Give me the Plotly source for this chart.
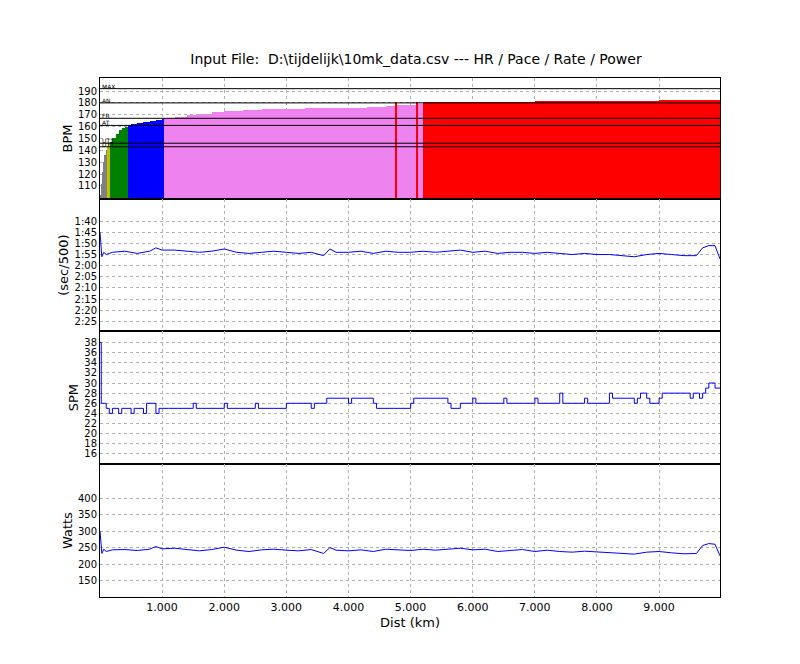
import plotly.graph_objects as go

# ---- data ----
hr_dist = [0.0, 0.02, 0.04, 0.06, 0.08, 0.10, 0.12, 0.14, 0.17, 0.20, 0.25, 0.30, 0.35, 0.40, 0.45, 0.50,
           0.60, 0.70, 0.80, 0.90, 1.00, 1.03, 1.2, 1.4, 1.6, 1.8, 2.0, 2.3, 2.6, 3.0, 3.3, 3.6, 4.0,
           4.3, 4.6, 4.75, 4.78, 5.08, 5.12, 5.20, 5.5, 6.0, 6.5, 7.0, 7.5, 8.0, 8.5, 9.0, 9.5, 9.98]
hr_vals = [102, 112, 122, 130, 136, 140, 143.5, 145, 147, 150, 154, 157, 159, 160, 161.5, 162,
           163, 164, 165, 165.5, 166, 167.5, 168.5, 170, 171, 172, 173, 174, 174.5, 175, 175.5, 175.5, 176,
           176.5, 177, 180.5, 178, 180.5, 179, 180.5, 180.5, 181, 181, 181.5, 181.5, 182, 182, 182.5, 182.5, 183]

zone_names = ["MAX", "AN", "FR", "AT", "UT1", "UT2"]
zone_vals = [192, 180, 167, 161, 146, 143]

pace_dist = [0, 0.03, 0.06, 0.1, 0.2, 0.4, 0.6, 0.8, 0.9, 1.0, 1.2, 1.4, 1.6, 1.8, 2.0, 2.2, 2.4, 2.6, 2.8,
             3.0, 3.2, 3.4, 3.6, 3.7, 3.8, 4.0, 4.2, 4.4, 4.6, 4.8, 5.0, 5.2, 5.4, 5.6, 5.8, 6.0, 6.2, 6.4,
             6.6, 6.8, 7.0, 7.2, 7.4, 7.6, 7.8, 8.0, 8.2, 8.4, 8.6, 8.8, 9.0, 9.2, 9.4, 9.6, 9.7, 9.8, 9.9, 9.98]
pace_sec = [105, 116, 114, 115, 114, 113.5, 114.5, 113.5, 112, 113, 113, 113.5, 114, 113.5, 112.5, 114, 114.5,
            114, 113.5, 114, 114.5, 114, 115.5, 112.5, 114, 114, 113.5, 114.5, 113.5, 114, 114, 113.5, 114,
            113.5, 113, 114, 113.5, 114.5, 114, 114, 114.5, 114, 114.5, 115, 114.5, 115, 115, 115.5, 116,
            115, 114.5, 115, 115.5, 115.5, 112, 111, 111, 117]
pace_ticks = [100, 105, 110, 115, 120, 125, 130, 135, 140, 145]
pace_labels = ["1:40", "1:45", "1:50", "1:55", "2:00", "2:05", "2:10", "2:15", "2:20", "2:25"]

spm_dist = [0, 0.02, 0.1, 0.15, 0.2, 0.3, 0.35, 0.5, 0.55, 0.7, 0.75, 0.9, 0.95, 1.1, 1.5, 1.55, 2.0, 2.05,
            2.5, 2.55, 3.0, 3.4, 3.45, 3.6, 3.65, 4.0, 4.05, 4.4, 4.45, 5.0, 5.05, 5.6, 5.65, 5.8, 6.0, 6.05,
            6.5, 6.55, 7.0, 7.05, 7.4, 7.45, 7.8, 7.85, 8.2, 8.25, 8.6, 8.65, 8.7, 8.8, 8.85, 9.0, 9.05,
            9.5, 9.55, 9.65, 9.7, 9.75, 9.8, 9.9, 9.98]
spm_vals = [38, 26, 25, 24, 25, 24, 25, 24, 25, 24, 26, 24, 25, 25, 26, 25, 26, 25, 26, 25, 26, 25, 26,
            26, 27, 26, 27, 26, 25, 26, 27, 26, 25, 26, 27, 26, 27, 26, 27, 26, 28, 26, 27, 26, 28, 27, 26,
            27, 28, 27, 26, 27, 28, 27, 28, 27, 28, 29, 30, 29, 29]

watt_dist = pace_dist
watt_vals = [300, 232, 245, 238, 243, 244, 241, 245, 253, 246, 248, 244, 240, 244, 251, 242, 238, 243, 245,
             242, 240, 244, 232, 250, 242, 240, 243, 238, 245, 243, 241, 245, 242, 245, 248, 243, 245, 238,
             241, 244, 238, 242, 238, 236, 239, 237, 235, 233, 230, 236, 238, 234, 231, 232, 256, 262, 260, 225]

x_ticks = [1, 2, 3, 4, 5, 6, 7, 8, 9]
x_labels = ["1.000", "2.000", "3.000", "4.000", "5.000", "6.000", "7.000", "8.000", "9.000"]

# ---- helpers ----
def zone_color(v):
    if v >= 180: return "red"
    if v >= 167: return "violet"
    if v >= 161: return "blue"
    if v >= 146: return "green"
    if v >= 143: return "#bfbf00"
    return "gray"

widths = [hr_dist[i + 1] - hr_dist[i] for i in range(len(hr_dist) - 1)] + [0.02]
bx = [d + w / 2 for d, w in zip(hr_dist, widths)]
colors = [zone_color(v) for v in hr_vals]

fig = go.Figure()
fig.add_trace(go.Bar(x=bx, y=[v - 99 for v in hr_vals], base=99, width=widths,
                     marker=dict(color=colors, line=dict(width=0)), xaxis="x", yaxis="y"))
fig.add_trace(go.Scatter(x=pace_dist, y=pace_sec, mode="lines", line=dict(color="blue", width=1),
                         xaxis="x2", yaxis="y2"))
fig.add_trace(go.Scatter(x=spm_dist, y=spm_vals, mode="lines", line=dict(color="blue", width=1, shape="hv"),
                         xaxis="x3", yaxis="y3"))
fig.add_trace(go.Scatter(x=watt_dist, y=watt_vals, mode="lines", line=dict(color="blue", width=1),
                         xaxis="x4", yaxis="y4"))

for n, v in zip(zone_names, zone_vals):
    fig.add_shape(type="line", xref="x domain", yref="y", x0=0, x1=1, y0=v, y1=v,
                  line=dict(color="black", width=1))
    fig.add_annotation(xref="x domain", yref="y", x=0, y=v, text=n, showarrow=False,
                       xanchor="left", yanchor="bottom", font=dict(size=6, color="black"), yshift=-3)

font = dict(family="DejaVu Sans", size=11, color="black")
common_x = dict(range=[0, 9.98], showgrid=True, gridcolor="#b0b0b0", griddash="dot", gridwidth=1,
                showline=True, mirror=True, linecolor="black", linewidth=1, ticks="",
                tickvals=x_ticks, ticktext=x_labels, zeroline=False, automargin=False)
common_y = dict(showgrid=True, gridcolor="#b0b0b0", griddash="dot", showline=True, mirror=True,
                linecolor="black", linewidth=1, ticks="", zeroline=False, tickfont=dict(size=10),
                automargin=False)

doms = [[0.767, 1.0], [0.512, 0.767], [0.256, 0.512], [0.0, 0.256]]
fig.update_layout(
    width=800, height=664, plot_bgcolor="white", paper_bgcolor="white", font=font,
    showlegend=False, bargap=0, margin=dict(l=92, r=88, t=70, b=75, autoexpand=False),
    title=dict(text="Input File:  D:\\tijdelijk\\10mk_data.csv --- HR / Pace / Rate / Power",
               x=0.51, xanchor="center", y=0.915, yanchor="bottom", font=dict(size=14)),
    xaxis=dict(common_x, anchor="y", showticklabels=False),
    xaxis2=dict(common_x, anchor="y2", matches="x", showticklabels=False),
    xaxis3=dict(common_x, anchor="y3", matches="x", showticklabels=False),
    xaxis4=dict(common_x, anchor="y4", matches="x", title=dict(text="Dist (km)", standoff=4)),
    yaxis=dict(common_y, domain=doms[0], range=[99, 201], tickvals=list(range(110, 200, 10)),
               title=dict(text="BPM", standoff=2)),
    yaxis2=dict(common_y, domain=doms[1], range=[149.5, 90], tickvals=pace_ticks, ticktext=pace_labels,
                title=dict(text="(sec/500)", standoff=2)),
    yaxis3=dict(common_y, domain=doms[2], range=[14, 40.2], tickvals=list(range(16, 40, 2)),
                title=dict(text="SPM", standoff=2)),
    yaxis4=dict(common_y, domain=doms[3], range=[100, 503], tickvals=list(range(150, 450, 50)),
                title=dict(text="Watts", standoff=2)),
)
fig.write_html("out.html")
